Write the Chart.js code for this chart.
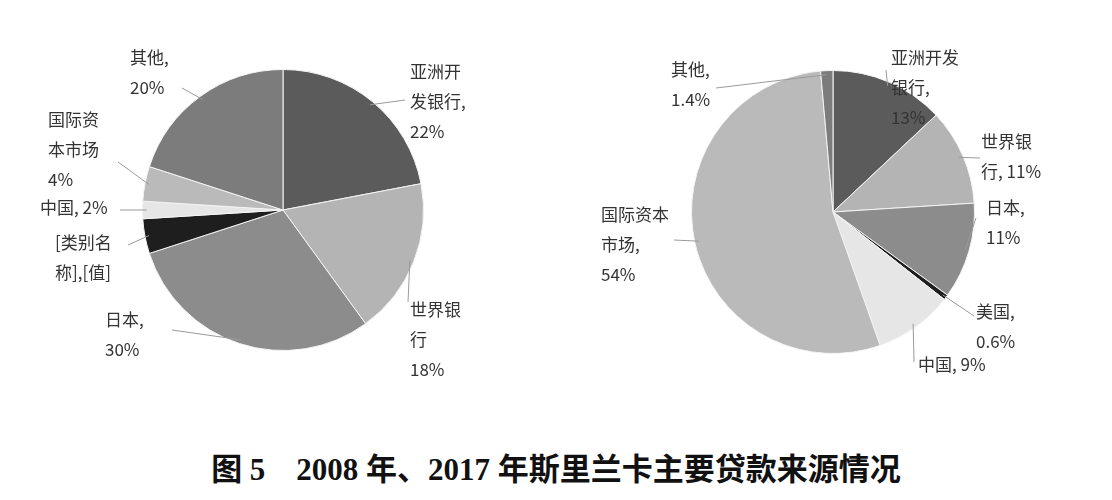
<!DOCTYPE html>
<html>
<head>
<meta charset="utf-8">
<script src="https://cdn.jsdelivr.net/npm/chart.js@4.4.1/dist/chart.umd.min.js"></script>
<style>
  body { margin: 0; background: #fff; width: 1112px; height: 500px; position: relative; overflow: hidden; }
  .box { position: absolute; top: 0; width: 556px; height: 420px; }
  #title { position: absolute; top: 444px; left: 0; width: 1112px; text-align: center;
    font-family: "Liberation Serif", "Noto Sans CJK SC", serif; font-weight: bold; font-size: 31px; color: #111; }
</style>
</head>
<body>
<div class="box" style="left:0"><canvas id="pie2008"></canvas></div>
<div class="box" style="left:556px"><canvas id="pie2017"></canvas></div>
<div id="title">图 5　2008 年、2017 年斯里兰卡主要贷款来源情况</div>
<script>
const sources = ['亚洲开发银行', '世界银行', '日本', '美国', '中国', '国际资本市场', '其他'];
const values2008 = [22, 18, 30, 4, 2, 4, 20];
const values2017 = [13, 11, 11, 0.6, 9, 54, 1.4];
const sliceColors = ['#5b5b5b', '#b4b4b4', '#8c8c8c', '#1e1e1e', '#e6e6e6', '#bababa', '#7c7c7c'];

// label text per slice, with text position and leader end (local canvas px)
const labels2008 = [
    { lines: ['亚洲开', '发银行,', '22%'], x: 410, y: 72, ax: 405, ay: 100 },
    { lines: ['世界银', '行', '18%'], x: 410, y: 310, ax: 408, ay: 302 },
    { lines: ['日本,', '30%'], x: 105, y: 320, ax: 172, ay: 330 },
    { lines: ['[类别名', '称],[值]'], x: 55, y: 243, ax: 128, ay: 245 },
    { lines: ['中国, 2%'], x: 40, y: 208, ax: 120, ay: 210 },
    { lines: ['国际资', '本市场', '4%'], x: 48, y: 120, ax: 118, ay: 162 },
    { lines: ['其他,', '20%'], x: 130, y: 58, ax: 182, ay: 88 }
];
const labels2017 = [
    { lines: ['亚洲开发', '银行,', '13%'], x: 335, y: 58, ax: 330, ay: 70 },
    { lines: ['世界银', '行, 11%'], x: 425, y: 142, ax: 424, ay: 158 },
    { lines: ['日本,', '11%'], x: 430, y: 208, ax: 420, ay: 218 },
    { lines: ['美国,', '0.6%'], x: 420, y: 312, ax: 418, ay: 316 },
    { lines: ['中国, 9%'], x: 362, y: 365, ax: 358, ay: 362 },
    { lines: ['国际资本', '市场,', '54%'], x: 45, y: 215, ax: 118, ay: 240 },
    { lines: ['其他,', '1.4%'], x: 115, y: 70, ax: 160, ay: 88 }
];

const leaderLabels = {
    id: 'leaderLabels',
    afterDatasetsDraw(chart, args, opts) {
        const ctx = chart.ctx;
        const arcs = chart.getDatasetMeta(0).data;
        ctx.save();
        ctx.font = '17px "Noto Sans CJK SC", sans-serif';
        ctx.textBaseline = 'middle';
        ctx.fillStyle = '#333';
        opts.items.forEach(function (item, i) {
            const arc = arcs[i];
            const mid = (arc.startAngle + arc.endAngle) / 2;
            const r = arc.outerRadius - 4;
            ctx.strokeStyle = '#9a9a9a';
            ctx.lineWidth = 1;
            ctx.beginPath();
            ctx.moveTo(arc.x + Math.cos(mid) * r, arc.y + Math.sin(mid) * r);
            ctx.lineTo(item.ax, item.ay);
            ctx.stroke();
            item.lines.forEach(function (line, k) {
                ctx.fillText(line, item.x, item.y + k * 30);
            });
        });
        ctx.restore();
    }
};

function makePie(id, values, items, pad) {
    new Chart(document.getElementById(id), {
        type: 'pie',
        data: {
            labels: sources,
            datasets: [{
                data: values,
                backgroundColor: sliceColors,
                borderColor: '#f4f4f4',
                borderWidth: 1
            }]
        },
        options: {
            responsive: true,
            maintainAspectRatio: false,
            animation: false,
            layout: { padding: pad },
            plugins: {
                legend: { display: false },
                tooltip: { enabled: false },
                leaderLabels: { items: items }
            }
        },
        plugins: [leaderLabels]
    });
}

makePie('pie2008', values2008, labels2008, { left: 142, right: 132, top: 69, bottom: 69 });
makePie('pie2017', values2017, labels2017, { left: 135, right: 137, top: 70, bottom: 66 });
</script>
</body>
</html>
